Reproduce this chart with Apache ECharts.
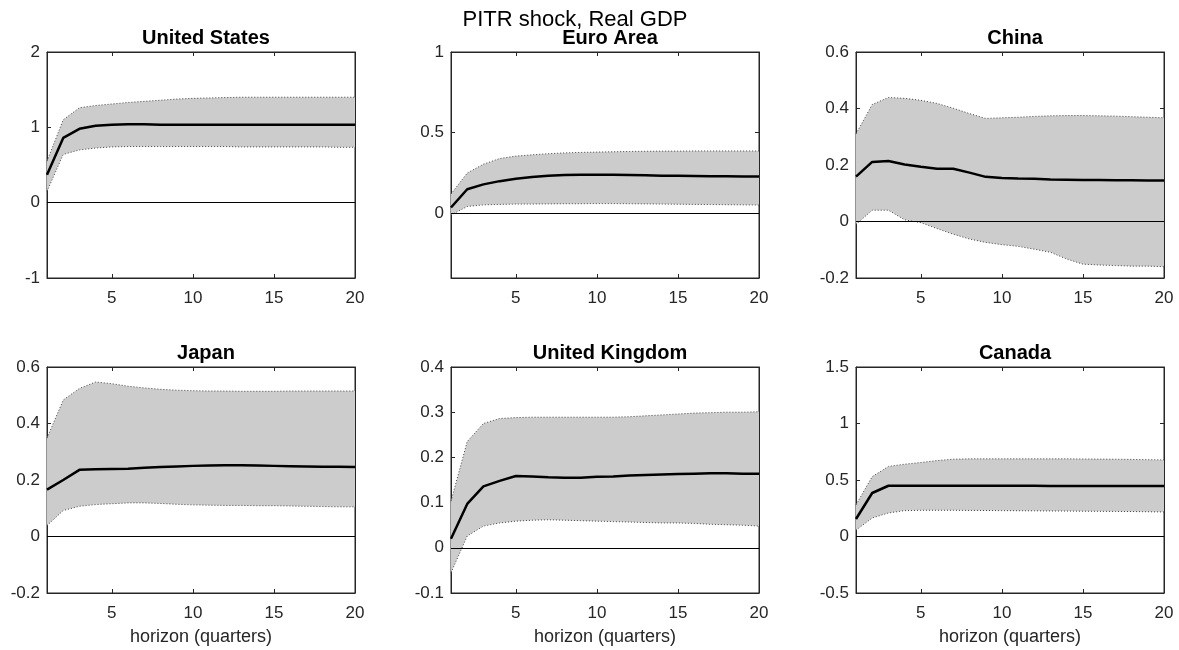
<!DOCTYPE html>
<html>
<head>
<meta charset="utf-8">
<title>PITR shock, Real GDP</title>
<script src="https://cdn.jsdelivr.net/npm/echarts@6/dist/echarts.min.js"></script>
<style>
html, body { margin: 0; padding: 0; background: #fff; }
#main { width: 1179px; height: 650px; }
</style>
</head>
<body>
<div id="main"></div>
<script>
// horizon (quarters)
var horizon = [1,2,3,4,5,6,7,8,9,10,11,12,13,14,15,16,17,18,19,20];
var xTicks = [5, 10, 15, 20];

var countries = ['United States', 'Euro Area', 'China', 'Japan', 'United Kingdom', 'Canada'];

// median response + upper/lower bands
var usMed = [0.37,0.86,0.98,1.02,1.035,1.04,1.04,1.035,1.035,1.035,1.035,1.035,1.035,1.035,1.035,1.035,1.035,1.035,1.035,1.035];
var usUp  = [0.55,1.10,1.26,1.29,1.31,1.33,1.345,1.36,1.375,1.385,1.39,1.395,1.40,1.40,1.40,1.40,1.40,1.40,1.40,1.40];
var usLo  = [0.15,0.64,0.70,0.725,0.74,0.745,0.745,0.745,0.745,0.745,0.745,0.745,0.74,0.74,0.74,0.74,0.74,0.74,0.735,0.735];

var eaMed = [0.037,0.15,0.18,0.20,0.215,0.226,0.234,0.238,0.24,0.24,0.239,0.238,0.236,0.234,0.233,0.232,0.231,0.23,0.229,0.228];
var eaUp  = [0.12,0.25,0.305,0.34,0.355,0.363,0.37,0.375,0.378,0.38,0.382,0.384,0.385,0.386,0.386,0.387,0.387,0.387,0.387,0.387];
var eaLo  = [-0.01,0.043,0.053,0.056,0.058,0.058,0.059,0.06,0.06,0.061,0.061,0.06,0.059,0.058,0.057,0.056,0.055,0.054,0.053,0.052];

var cnMed = [0.159,0.211,0.214,0.202,0.194,0.187,0.187,0.173,0.158,0.154,0.152,0.151,0.149,0.148,0.147,0.147,0.146,0.146,0.145,0.145];
var cnUp  = [0.31,0.414,0.439,0.436,0.429,0.418,0.401,0.382,0.365,0.367,0.369,0.372,0.374,0.375,0.375,0.374,0.373,0.371,0.369,0.367];
var cnLo  = [-0.01,0.04,0.04,0.006,-0.004,-0.025,-0.045,-0.062,-0.074,-0.082,-0.088,-0.098,-0.109,-0.133,-0.151,-0.154,-0.156,-0.158,-0.158,-0.16];

var jpMed = [0.166,0.20,0.236,0.238,0.239,0.24,0.243,0.246,0.248,0.25,0.251,0.252,0.252,0.251,0.25,0.249,0.248,0.247,0.247,0.246];
var jpUp  = [0.348,0.483,0.524,0.547,0.541,0.532,0.526,0.521,0.518,0.516,0.515,0.515,0.514,0.514,0.514,0.515,0.515,0.515,0.515,0.515];
var jpLo  = [0.039,0.092,0.107,0.113,0.116,0.119,0.119,0.117,0.114,0.112,0.111,0.11,0.11,0.109,0.109,0.108,0.107,0.106,0.105,0.105];

var ukMed = [0.02,0.097,0.136,0.148,0.159,0.158,0.156,0.155,0.155,0.157,0.158,0.16,0.161,0.162,0.163,0.164,0.165,0.165,0.164,0.164];
var ukUp  = [0.103,0.235,0.275,0.286,0.288,0.289,0.289,0.289,0.289,0.289,0.289,0.29,0.292,0.294,0.296,0.298,0.299,0.3,0.3,0.301];
var ukLo  = [-0.055,0.026,0.048,0.055,0.059,0.061,0.062,0.061,0.06,0.059,0.058,0.057,0.056,0.055,0.055,0.054,0.052,0.051,0.05,0.048];

var caMed = [0.155,0.385,0.449,0.449,0.449,0.449,0.449,0.449,0.449,0.449,0.45,0.449,0.448,0.447,0.447,0.447,0.447,0.447,0.448,0.448];
var caUp  = [0.28,0.53,0.62,0.64,0.655,0.672,0.684,0.687,0.687,0.687,0.687,0.687,0.687,0.687,0.686,0.685,0.684,0.682,0.68,0.678];
var caLo  = [0.056,0.164,0.208,0.229,0.232,0.232,0.232,0.231,0.23,0.229,0.228,0.227,0.226,0.225,0.224,0.223,0.222,0.221,0.219,0.217];

// y limits and tick labels per panel
var yMin = [-1, -0.4, -0.2, -0.2, -0.1, -0.5];
var yMax = [2, 1, 0.6, 0.6, 0.4, 1.5];
var usTicks = [-1, 0, 1, 2];
var eaTicks = [0, 0.5, 1];
var cnTicks = [-0.2, 0, 0.2, 0.4, 0.6];
var jpTicks = [-0.2, 0, 0.2, 0.4, 0.6];
var ukTicks = [-0.1, 0, 0.1, 0.2, 0.3, 0.4];
var caTicks = [-0.5, 0, 0.5, 1, 1.5];

var meds = [usMed, eaMed, cnMed, jpMed, ukMed, caMed];
var ups = [usUp, eaUp, cnUp, jpUp, ukUp, caUp];
var los = [usLo, eaLo, cnLo, jpLo, ukLo, caLo];
var yTicks = [usTicks, eaTicks, cnTicks, jpTicks, ukTicks, caTicks];

var FONT = '"Liberation Sans", Arial, Helvetica, sans-serif';
var AX = '#262626';

function pairs(arr){
	return horizon.map(function(h, i){ return [h, arr[i]]; });
}

// band between lower and upper, drawn once per panel as one polygon
function bandRender(lo, up){
	return function(params, api){
		if (params.dataIndex !== 0) return;
		var pts = [];
		for (var k = 0; k < horizon.length; k++) pts.push(api.coord([horizon[k], up[k]]));
		for (var k = horizon.length - 1; k >= 0; k--) pts.push(api.coord([horizon[k], lo[k]]));
		return {
			type: 'polygon',
			shape: { points: pts },
			style: { fill: '#cccccc', stroke: null }
		};
	};
}

var myChart = echarts.init(document.getElementById('main'));

var lefts = [47, 451, 856];
var tops = [52, 367];

var grid = [], xAxis = [], yAxis = [], title = [], series = [];

title.push({
	text: 'PITR shock, Real GDP',
	left: 570,
	top: 4,
	textAlign: 'center',
	textStyle: { fontFamily: FONT, fontWeight: 'normal', fontSize: 22, color: '#000' }
});

for (var i = 0; i < 6; i++) {
	var col = i % 3, row = Math.floor(i / 3);
	grid.push({
		left: lefts[col], top: tops[row], width: 308, height: 226,
		show: true, borderColor: AX, borderWidth: 1, backgroundColor: 'transparent',
		containLabel: false
	});
	title.push({
		text: countries[i],
		left: lefts[col] + 154,
		top: tops[row] - 29,
		textAlign: 'center',
		textStyle: { fontFamily: FONT, fontWeight: 'bold', fontSize: 20, color: '#000' }
	});
	// bottom x axis
	xAxis.push({
		type: 'value', gridIndex: i, min: 1, max: 20,
		position: 'bottom',
		name: row === 1 ? 'horizon (quarters)' : '',
		nameLocation: 'middle', nameGap: 35,
		nameTextStyle: { fontFamily: FONT, fontSize: 18, color: AX },
		axisLine: { show: true, onZero: false, lineStyle: { color: AX, width: 1 } },
		axisTick: { show: true, inside: true, length: 4, customValues: xTicks, lineStyle: { color: AX } },
		axisLabel: { show: true, customValues: xTicks, margin: 12, fontFamily: FONT, fontSize: 17, color: AX },
		splitLine: { show: false }
	});
	// top x axis, ticks only
	xAxis.push({
		type: 'value', gridIndex: i, min: 1, max: 20,
		position: 'top',
		axisLine: { show: true, onZero: false, lineStyle: { color: AX, width: 1 } },
		axisTick: { show: true, inside: true, length: 4, customValues: xTicks, lineStyle: { color: AX } },
		axisLabel: { show: false },
		splitLine: { show: false }
	});
	yAxis.push({
		type: 'value', gridIndex: i, min: yMin[i], max: yMax[i],
		position: 'left',
		axisLine: { show: true, onZero: false, lineStyle: { color: AX, width: 1 } },
		axisTick: { show: true, inside: true, length: 4, customValues: yTicks[i], lineStyle: { color: AX } },
		axisLabel: { show: true, customValues: yTicks[i], margin: 7, fontFamily: FONT, fontSize: 17, color: AX },
		splitLine: { show: false }
	});
	yAxis.push({
		type: 'value', gridIndex: i, min: yMin[i], max: yMax[i],
		position: 'right',
		axisLine: { show: true, onZero: false, lineStyle: { color: AX, width: 1 } },
		axisTick: { show: true, inside: true, length: 4, customValues: yTicks[i], lineStyle: { color: AX } },
		axisLabel: { show: false },
		splitLine: { show: false }
	});

	// shaded band
	series.push({
		type: 'custom', xAxisIndex: 2 * i, yAxisIndex: 2 * i,
		data: horizon.map(function(h, k){ return [h, los[i][k], ups[i][k]]; }),
		encode: { x: 0, y: [1, 2] },
		renderItem: bandRender(los[i], ups[i]),
		silent: true, clip: true, z: 1
	});
	// lower / upper edges, dotted
	series.push({
		type: 'line', xAxisIndex: 2 * i, yAxisIndex: 2 * i,
		data: pairs(los[i]), showSymbol: false, symbol: 'none', silent: true,
		lineStyle: { color: '#444', width: 1, type: [1, 2] },
		z: 3
	});
	series.push({
		type: 'line', xAxisIndex: 2 * i, yAxisIndex: 2 * i,
		data: pairs(ups[i]), showSymbol: false, symbol: 'none', silent: true,
		lineStyle: { color: '#444', width: 1, type: [1, 2] },
		z: 3
	});
	// median
	series.push({
		type: 'line', xAxisIndex: 2 * i, yAxisIndex: 2 * i,
		data: pairs(meds[i]), showSymbol: false, symbol: 'none', silent: true,
		lineStyle: { color: '#000', width: 2.5 },
		z: 5,
		markLine: {
			silent: true, symbol: 'none', label: { show: false },
			lineStyle: { color: '#000', width: 1, type: 'solid' },
			data: [{ yAxis: 0 }],
			animation: false
		}
	});
}

var option = {
	backgroundColor: '#fff',
	animation: false,
	title: title,
	grid: grid,
	xAxis: xAxis,
	yAxis: yAxis,
	series: series
};
myChart.setOption(option);
</script>
</body>
</html>
